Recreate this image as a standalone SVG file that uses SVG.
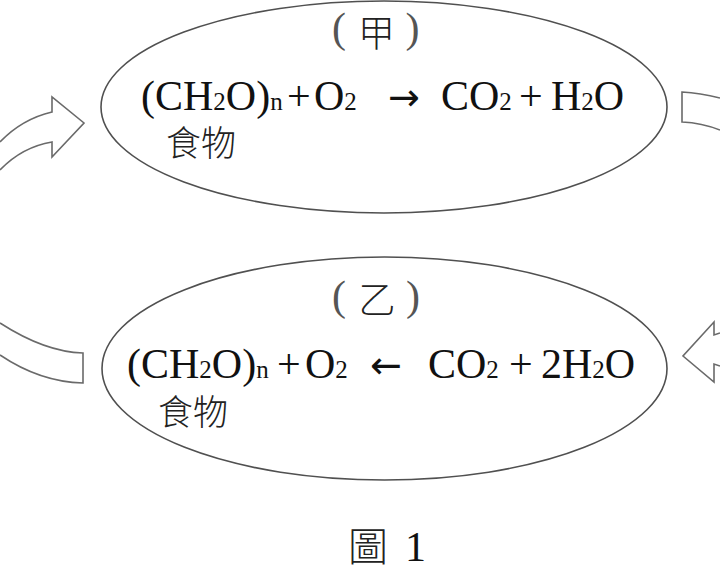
<svg xmlns="http://www.w3.org/2000/svg" width="720" height="570" viewBox="0 0 720 570">
<style>
.bg{fill:#ffffff}
.ell{fill:#ffffff;stroke:#505050;stroke-width:1.6}
.arr{fill:#ffffff;stroke:#6a6a6a;stroke-width:1.6;stroke-linejoin:miter}
.eq{font-family:"Liberation Serif","Times New Roman",serif;font-size:42px;fill:#111}
.sub{font-size:25px}
.ar{font-family:"DejaVu Sans",sans-serif;font-size:38px}
.cjk{font-family:"Noto Sans CJK TC","Noto Sans CJK SC",sans-serif;font-weight:300;fill:#222}
.par{font-family:"Liberation Serif","Times New Roman",serif;font-size:42px;fill:#555}
</style>
<rect class="bg" x="0" y="0" width="720" height="570"/>
<g id="connectors">
<path class="arr" d="M0,142 Q22,119 52,112 L52,97 L84,123 L52,157 L52,142 Q22,147 0,170"/>
<path class="arr" d="M0,323 Q45,352 83,353 L83,383 Q40,382 0,355"/>
<path class="arr" d="M720,98 Q700,93 682,92 L682,122 Q702,123 720,130"/>
<path class="arr" d="M720,333 L714,335 L714,322 L683,356 L714,382 L714,364 L720,366"/>
</g>
<g id="node-jia">
<ellipse class="ell" cx="384" cy="107" rx="283" ry="106"/>
<text class="par" x="339" y="42" text-anchor="middle">(</text>
<text class="cjk" x="376.5" y="47" font-size="37" text-anchor="middle">甲</text>
<text class="par" x="412.5" y="42" text-anchor="middle">)</text>
<text class="eq" x="141" y="110">(CH<tspan class="sub">2</tspan>O)<tspan class="sub">n</tspan></text>
<text class="eq" x="287" y="110">+</text>
<text class="eq" x="314" y="110">O<tspan class="sub">2</tspan></text>
<text class="eq ar" x="388" y="110">→</text>
<text class="eq" x="441" y="110">CO<tspan class="sub">2</tspan></text>
<text class="eq" x="519" y="110">+</text>
<text class="eq" x="551" y="110">H<tspan class="sub">2</tspan>O</text>
<text class="cjk" x="166" y="156" font-size="35">食物</text>
</g>
<g id="node-yi">
<ellipse class="ell" cx="384.5" cy="368.5" rx="282.5" ry="111.5"/>
<text class="par" x="339" y="310" text-anchor="middle">(</text>
<text class="cjk" x="377" y="314" font-size="37" text-anchor="middle">乙</text>
<text class="par" x="413" y="310" text-anchor="middle">)</text>
<text class="eq" x="127" y="378">(CH<tspan class="sub">2</tspan>O)<tspan class="sub">n</tspan></text>
<text class="eq" x="277" y="378">+</text>
<text class="eq" x="305" y="378">O<tspan class="sub">2</tspan></text>
<text class="eq ar" x="370" y="378">←</text>
<text class="eq" x="428" y="378">CO<tspan class="sub">2</tspan></text>
<text class="eq" x="509" y="378">+</text>
<text class="eq" x="541" y="378">2H<tspan class="sub">2</tspan>O</text>
<text class="cjk" x="158" y="425" font-size="35">食物</text>
</g>
<g id="caption">
<text class="cjk" x="348" y="561" font-size="40">圖</text>
<text class="eq" x="405" y="561" font-size="44">1</text>
</g>
</svg>
